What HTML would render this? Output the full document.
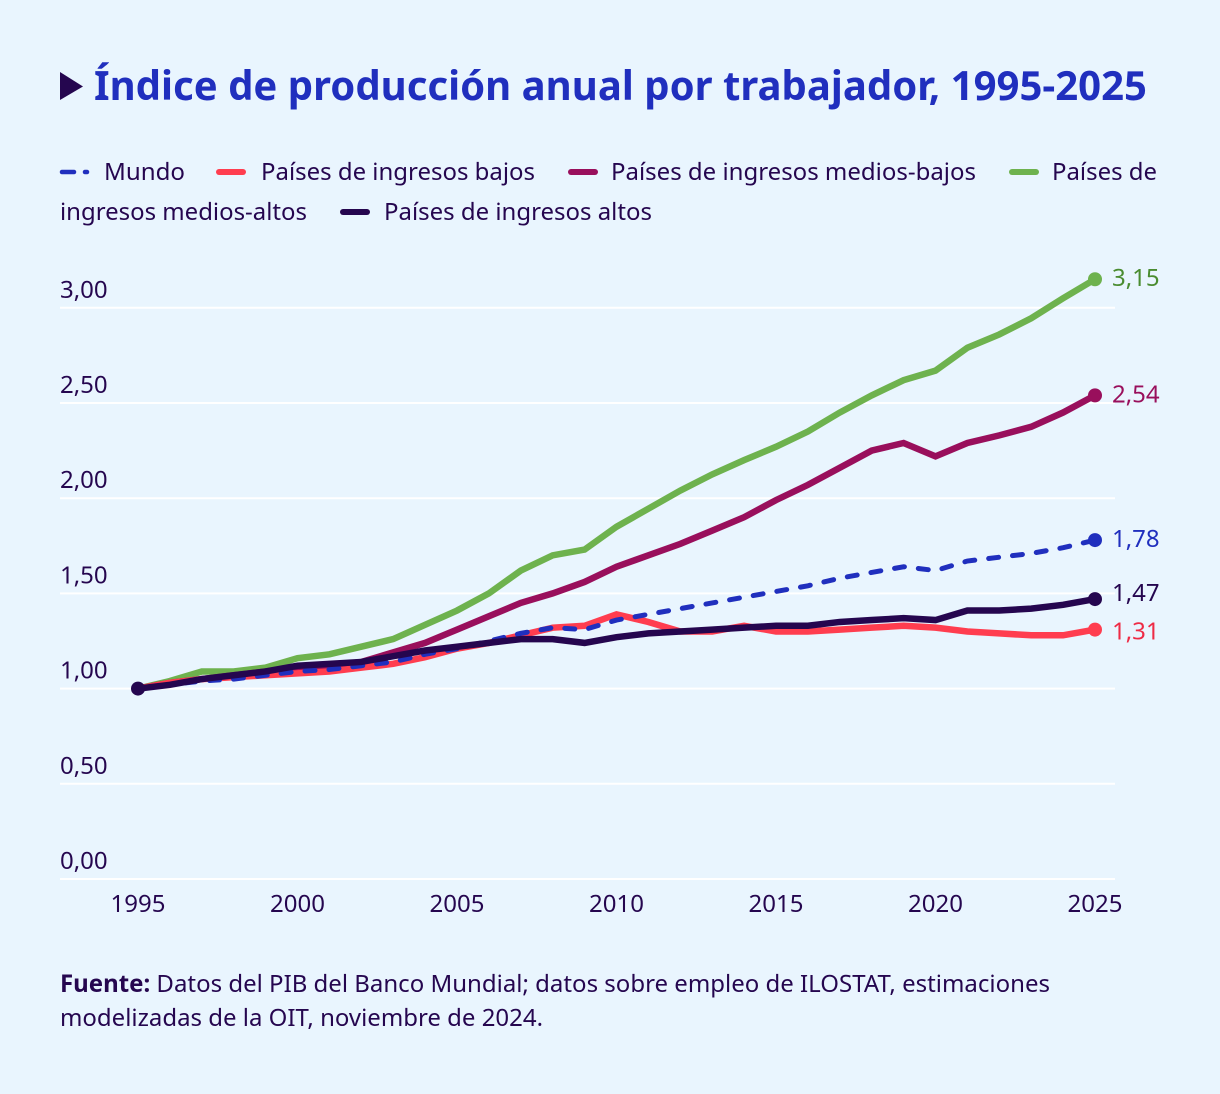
<!DOCTYPE html>
<html lang="es">
<head>
<meta charset="utf-8">
<title>Índice de producción anual por trabajador, 1995-2025</title>
<style>
html,body{margin:0;padding:0;background:#e9f5fe;width:1220px;height:1094px;overflow:hidden}
svg{display:block}
text{font-family:"Noto Sans","Noto Sans CJK JP","DejaVu Sans",sans-serif;fill:#25064f;font-size:24px}
</style>
</head>
<body>
<svg id="chart" width="1220" height="1094" viewBox="0 0 1220 1094" xmlns="http://www.w3.org/2000/svg">
<rect width="1220" height="1094" fill="#e9f5fe"/>
<polygon points="60,72 83,86.5 60,100" fill="#25064f"/>
<text x="94" y="100" textLength="1053" lengthAdjust="spacingAndGlyphs" style="font-size:40px;font-weight:700;fill:#202fbe">Índice de producción anual por trabajador, 1995-2025</text>

<g>
<g>
<line x1="62" y1="172" x2="74" y2="172" stroke="#202fbe" stroke-width="4.5" stroke-linecap="round"/>
<line x1="85" y1="172" x2="87" y2="172" stroke="#202fbe" stroke-width="4.5" stroke-linecap="round"/>
<text x="104" y="180" textLength="81" lengthAdjust="spacingAndGlyphs">Mundo</text>
</g>
<g>
<line x1="219" y1="172" x2="243" y2="172" stroke="#ff3d4f" stroke-width="6" stroke-linecap="round"/>
<text x="261" y="180" textLength="274" lengthAdjust="spacingAndGlyphs">Países de ingresos bajos</text>
</g>
<g>
<line x1="571" y1="172" x2="595" y2="172" stroke="#990f5c" stroke-width="6" stroke-linecap="round"/>
<text x="611" y="180" textLength="365" lengthAdjust="spacingAndGlyphs">Países de ingresos medios-bajos</text>
</g>
<g>
<line x1="1012" y1="172" x2="1036" y2="172" stroke="#6eb24e" stroke-width="6" stroke-linecap="round"/>
<text x="1052" y="180" textLength="105" lengthAdjust="spacingAndGlyphs">Países de</text>
<text x="60" y="220" textLength="247" lengthAdjust="spacingAndGlyphs">ingresos medios-altos</text>
</g>
<g>
<line x1="343" y1="212" x2="367" y2="212" stroke="#25064f" stroke-width="6" stroke-linecap="round"/>
<text x="384" y="220" textLength="268" lengthAdjust="spacingAndGlyphs">Países de ingresos altos</text>
</g>
</g>

<g id="grid"></g>
<g id="yaxis"></g>
<g id="xaxis"></g>
<g id="series"></g>
<g id="labels"></g>

<g>
<text x="60" y="992" textLength="990" lengthAdjust="spacingAndGlyphs"><tspan style="font-weight:700">Fuente:</tspan> Datos del PIB del Banco Mundial; datos sobre empleo de ILOSTAT, estimaciones</text>
<text x="60" y="1026" textLength="483" lengthAdjust="spacingAndGlyphs">modelizadas de la OIT, noviembre de 2024.</text>
</g>
</svg>
<script>
const years = [1995,1996,1997,1998,1999,2000,2001,2002,2003,2004,2005,2006,2007,2008,2009,2010,2011,2012,2013,2014,2015,2016,2017,2018,2019,2020,2021,2022,2023,2024,2025];
const yTicks = [0,0.5,1,1.5,2,2.5,3];
const xTicks = [1995,2000,2005,2010,2015,2020,2025];
const altosMedios = [1.00,1.04,1.09,1.09,1.11,1.16,1.18,1.22,1.26,1.335,1.41,1.50,1.62,1.70,1.73,1.85,1.945,2.04,2.125,2.20,2.27,2.35,2.45,2.54,2.62,2.67,2.79,2.86,2.945,3.05,3.15];
const bajosMedios = [1.00,1.03,1.05,1.07,1.09,1.11,1.12,1.14,1.19,1.24,1.31,1.38,1.45,1.50,1.56,1.64,1.70,1.76,1.83,1.90,1.99,2.07,2.16,2.25,2.29,2.22,2.29,2.33,2.375,2.45,2.54];
const bajos = [1.00,1.03,1.05,1.06,1.07,1.08,1.09,1.11,1.13,1.165,1.21,1.24,1.28,1.32,1.33,1.39,1.35,1.30,1.30,1.33,1.30,1.30,1.31,1.32,1.33,1.32,1.30,1.29,1.28,1.28,1.31];
const mundo = [1.00,1.02,1.04,1.05,1.07,1.09,1.10,1.12,1.14,1.18,1.21,1.25,1.29,1.32,1.31,1.36,1.39,1.42,1.45,1.48,1.51,1.54,1.58,1.61,1.64,1.62,1.67,1.69,1.71,1.74,1.78];
const altos = [1.00,1.02,1.05,1.07,1.09,1.12,1.13,1.14,1.17,1.20,1.22,1.24,1.26,1.26,1.24,1.27,1.29,1.30,1.31,1.32,1.33,1.33,1.35,1.36,1.37,1.36,1.41,1.41,1.42,1.44,1.47];

const NS = 'http://www.w3.org/2000/svg';
const xScale = v => 138 + (v - 1995) * (1095 - 138) / 30;
const yScale = v => 879 - v * 190.4;
const fmt = v => v.toFixed(2).replace('.', ',');
const make = (tag, parent) => { const e = document.createElementNS(NS, tag); parent.appendChild(e); return e; };

const gridG = document.getElementById('grid');
const yG = document.getElementById('yaxis');
const xG = document.getElementById('xaxis');
const seriesG = document.getElementById('series');
const labelsG = document.getElementById('labels');

yTicks.forEach(t => {
  const l = make('line', gridG);
  
  
  l.setAttribute('x1', 60);
  l.setAttribute('x2', 1115);
  l.setAttribute('y1', yScale(t));
  l.setAttribute('y2', yScale(t));
  l.setAttribute('stroke', '#ffffff');
  l.setAttribute('stroke-width', 2);
  const s = make('text', yG);
  
  
  s.setAttribute('x', 60);
  s.setAttribute('y', yScale(t) - 10);
  s.textContent = fmt(t);
});

xTicks.forEach(t => {
  const s = make('text', xG);
  
  
  s.setAttribute('x', xScale(t));
  s.setAttribute('y', 912);
  s.setAttribute('text-anchor', 'middle');
  s.textContent = t;
});

const drawSeries = (name, values, color, labelColor, labelShift, dashed) => {
  const pts = values.map((v, i) => xScale(years[i]) + ',' + yScale(v)).join(' ');
  const p = make('polyline', seriesG);
  
  
  p.setAttribute('points', pts);
  p.setAttribute('fill', 'none');
  p.setAttribute('stroke', color);
  p.setAttribute('stroke-width', dashed ? 5 : 6.5);
  p.setAttribute('stroke-linejoin', 'miter');
  if (dashed) {
    p.setAttribute('stroke-dasharray', '10 14');
    p.setAttribute('stroke-linecap', 'round');
  }
  const last = values.length - 1;
  const c = make('circle', labelsG);
  
  
  c.setAttribute('cx', xScale(years[last]));
  c.setAttribute('cy', yScale(values[last]));
  c.setAttribute('r', 7);
  c.setAttribute('fill', color);
  const t = make('text', labelsG);
  
  
  t.setAttribute('x', 1112);
  t.setAttribute('y', yScale(values[last]) + 7 + labelShift);
  t.setAttribute('style', 'fill:' + labelColor);
  t.textContent = fmt(values[last]);
};

drawSeries('ingresos-medios-altos', altosMedios, '#6eb24e', '#4a8c30', 0, false);
drawSeries('ingresos-medios-bajos', bajosMedios, '#990f5c', '#990f5c', 0, false);
drawSeries('ingresos-bajos', bajos, '#ff3d4f', '#ee2b45', 3, false);
drawSeries('mundo', mundo, '#202fbe', '#202fbe', 0, true);
drawSeries('ingresos-altos', altos, '#25064f', '#25064f', -5, false);

const startDot = make('circle', labelsG);


startDot.setAttribute('cx', xScale(years[0]));
startDot.setAttribute('cy', yScale(altos[0]));
startDot.setAttribute('r', 7);
startDot.setAttribute('fill', '#25064f');
</script>
</body>
</html>
